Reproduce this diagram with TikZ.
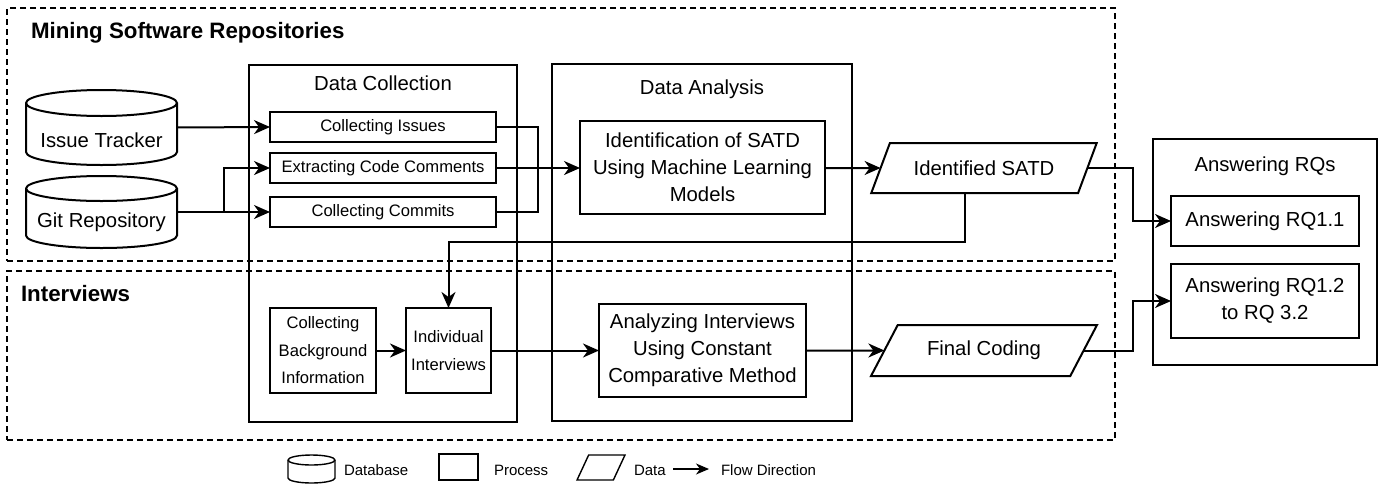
\documentclass[tikz,border=0pt]{standalone}
\usepackage{fontspec}
\setmainfont{Liberation Sans}
\usetikzlibrary{arrows.meta,shapes.geometric}
\newcommand{\dbcyl}[4]{%
 \draw[line width=#4,fill=white] ([yshift=-#3]#1.north west) -- ([yshift=#3]#1.south west)
   arc[start angle=180,end angle=360,x radius=#2,y radius=#3]
   -- ([yshift=-#3]#1.north east)
   arc[start angle=0,end angle=180,x radius=#2,y radius=#3] -- cycle;
 \draw[line width=#4] ([yshift=-#3]#1.north west) arc[start angle=180,end angle=360,x radius=#2,y radius=#3];}
\begin{document}
\begin{tikzpicture}[x=1pt,y=-1pt,
  every node/.style={inner sep=0pt, outer sep=0pt},
  ln/.style={line width=2pt},
  zone/.style={draw, line width=1.4pt, dash pattern=on 6pt off 4pt},
  grp/.style={draw, line width=2pt},
  proc/.style={draw, line width=2pt, align=center},
  big/.style={font=\fontsize{20.3}{27}\selectfont, align=center},
  small/.style={font=\fontsize{16.6}{27.5}\selectfont, align=center},
  ztitle/.style={font=\fontsize{22.3}{26}\selectfont\bfseries},
  lgd/.style={font=\fontsize{15}{18}\selectfont},
  datashape/.style={draw, line width=2pt, trapezium, trapezium left angle=47, trapezium right angle=133, trapezium stretches=true},
  flow/.style={ln, -{Stealth[length=16pt,width=14pt,inset=5pt]}},
]
\fill[white] (0,0) rectangle (1380,485);
\useasboundingbox (0,0) rectangle (1380,485);

% zones
\node[zone, minimum width=1108pt, minimum height=253pt] (msr) at (561,134.5) {};
\node[zone, minimum width=1108pt, minimum height=169pt] (intz) at (561,355.5) {};
\node[ztitle, anchor=west] (msrt) at (31,33) {Mining Software Repositories};
\node[ztitle, anchor=west] (intt) at (21,294) {Interviews};

% data collection
\node[grp, minimum width=268pt, minimum height=357pt] (dc) at (383,243.5) {};
\node[big] (dct) at (383,83) {Data Collection};
\node[proc, small, minimum width=226pt, minimum height=30pt] (ci) at (383,127) {Collecting Issues};
\node[proc, small, minimum width=226pt, minimum height=30pt] (ec) at (383,168) {Extracting Code Comments};
\node[proc, small, minimum width=226pt, minimum height=30pt] (cc) at (383,212) {Collecting Commits};
\node[proc, small, minimum width=106pt, minimum height=85pt] (cbi) at (323,350.5) {Collecting\\Background\\Information};
\node[proc, small, minimum width=85pt, minimum height=85pt] (ii) at (448.5,350.5) {Individual\\Interviews};

% data analysis
\node[grp, minimum width=300pt, minimum height=357pt] (da) at (702,242.5) {};
\node[big] (dati) at (702,89) {Data Analysis};
\node[proc, big, minimum width=245pt, minimum height=93pt] (idm) at (702.5,167.5) {Identification of SATD\\Using Machine Learning\\Models};
\node[proc, big, minimum width=207pt, minimum height=93pt] (aic) at (702.5,350.5) {Analyzing Interviews\\Using Constant\\Comparative Method};

% data outputs
\node[datashape, big, minimum width=226pt, minimum height=50pt] (isatd) at (984,168) {Identified SATD};
\node[datashape, big, minimum width=226pt, minimum height=51pt] (fc) at (984,350.5) {Final Coding};

% answering
\node[grp, minimum width=224pt, minimum height=226pt] (rqs) at (1265,252) {};
\node[big] (rqst) at (1265,166) {Answering RQs};
\node[proc, big, minimum width=188pt, minimum height=50pt] (rq11) at (1265,221) {Answering RQ1.1};
\node[proc, big, minimum width=188pt, minimum height=74pt] (rq12) at (1265,301) {Answering RQ1.2\\to RQ 3.2};

% databases
\node[minimum width=151pt, minimum height=75pt] (it) at (101.5,127.5) {};
\node[minimum width=151pt, minimum height=72pt] (git) at (101.5,212) {};
\dbcyl{it}{75.5pt}{13pt}{2pt}
\dbcyl{git}{75.5pt}{12.5pt}{2pt}
\node[big] (itt) at (101.5,140) {Issue Tracker};
\node[big] (gitt) at (101.5,222) {Git Repository};

% connectors
\coordinate (br) at (224,212);
\coordinate (bus) at (538,0);
\coordinate (jx) at (1133,0);
\coordinate (fb) at (965,242);
\draw[flow] (it.east) -- (ci.west);
\draw[flow] (git.east) -- (cc.west);
\draw[flow] (br) |- (ec.west);
\draw[ln] (ci.east) -- (ci.east -| bus) -- (cc.east -| bus) -- (cc.east);
\draw[flow] (ec.east) -- (ec.east -| idm.west);
\draw[flow] (idm.east |- isatd) -- (isatd);
\draw[flow] (isatd.east) -- (isatd.east -| jx) |- (rq11.west);
\draw[flow] (isatd.south -| fb) -- (fb) -| (ii.north);
\draw[flow] (cbi.east) -- (ii.west);
\draw[flow] (ii.east) -- (aic.west);
\draw[flow] (aic.east) -- (fc);
\draw[flow] (fc.east) -- (fc.east -| jx) |- (rq12.west);

% legend
\node[minimum width=47pt, minimum height=28pt] (ldb) at (311.5,469) {};
\dbcyl{ldb}{23.5pt}{5pt}{1.4pt}
\node[lgd, anchor=west] (ldbt) at (344,470) {Database};
\node[draw, line width=1.4pt, minimum width=39pt, minimum height=26pt] (lpr) at (458.5,467) {};
\node[lgd, anchor=west] (lprt) at (494,470) {Process};
\node[datashape, lgd, line width=1.4pt, trapezium left angle=66, trapezium right angle=114, minimum width=48pt, minimum height=25pt] (lda) at (601,467.5) {\phantom{x}};
\node[lgd, anchor=west] (ldat) at (634,470) {Data};
\coordinate (la1) at (673,469);
\coordinate (la2) at (709,469);
\draw[line width=1.4pt, -{Stealth[length=13pt,width=11pt,inset=4pt]}] (la1) -- (la2);
\node[lgd, anchor=west] (lfl) at (721,470) {Flow Direction};
\end{tikzpicture}
\end{document}
